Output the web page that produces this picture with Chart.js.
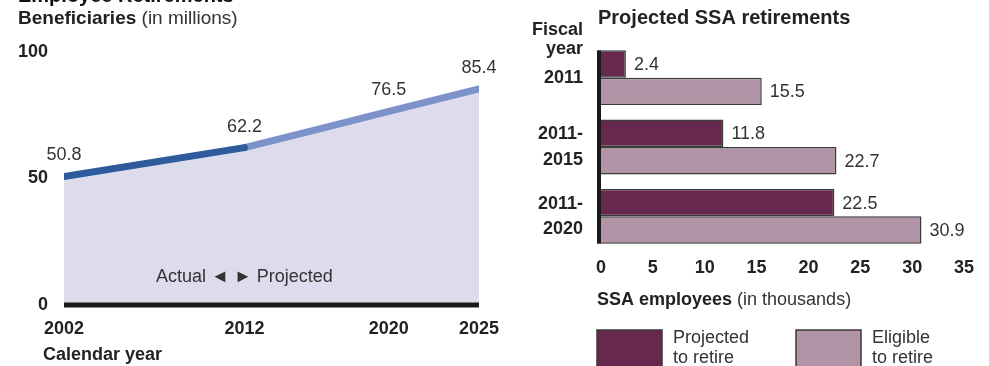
<!DOCTYPE html>
<html><head><meta charset="utf-8">
<script src="https://cdn.jsdelivr.net/npm/chart.js@4/dist/chart.umd.min.js"></script>
<style>
html,body{margin:0;padding:0;background:#fff;overflow:hidden}
#wrap{position:relative;width:989px;height:366px}
#c1{position:absolute;left:0;top:0}
#c2{position:absolute;left:500px;top:0}
</style></head><body>
<div id="wrap">
<canvas id="c1" width="500" height="366"></canvas>
<canvas id="c2" width="489" height="366"></canvas>
</div>
<script>
// ---- Left chart data: Beneficiaries (in millions) ----
const yearsActual = [2002, 2012];
const valuesActual = [50.8, 62.2];
const yearsProjected = [2012, 2020, 2025];
const valuesProjected = [62.2, 76.5, 85.4];
const yearTicks = [2002, 2012, 2020, 2025];
const beneficiaryTicks = [0, 50, 100];

// ---- Right chart data: Projected SSA retirements (thousands) ----
const periods = [['2011'], ['2011-', '2015'], ['2011-', '2020']];
const projectedToRetire = [2.4, 11.8, 22.5];
const eligibleToRetire = [15.5, 22.7, 30.9];
const employeeTicks = [0, 5, 10, 15, 20, 25, 30, 35];
const seriesNames = [['Projected', 'to retire'], ['Eligible', 'to retire']];

const FONT = '"Liberation Sans", Arial, Helvetica, sans-serif';
const TXT = '#222222';
const VAL = '#333333';

function mixedText(ctx, x, y, boldPart, normalPart, size) {
  ctx.save();
  ctx.textAlign = 'left';
  ctx.textBaseline = 'middle';
  ctx.fillStyle = TXT;
  ctx.font = 'bold ' + size + 'px ' + FONT;
  ctx.fillText(boldPart, x, y);
  const w = ctx.measureText(boldPart + ' ').width;
  ctx.font = size + 'px ' + FONT;
  ctx.fillStyle = '#333';
  ctx.fillText(normalPart, x + w, y);
  ctx.restore();
}

const allPoints = yearsActual.map((x, i) => ({ x: x, y: valuesActual[i] }))
  .concat(yearsProjected.slice(1).map((x, i) => ({ x: x, y: valuesProjected[i + 1] })));

const leftDecor = {
  id: 'leftDecor',
  afterDatasetsDraw(chart) {
    const ctx = chart.ctx;
    const xs = chart.scales.x, ys = chart.scales.y;
    // baseline at zero
    ctx.save();
    ctx.strokeStyle = '#1a1a1a';
    ctx.lineWidth = 5;
    ctx.beginPath();
    ctx.moveTo(xs.getPixelForValue(yearTicks[0]), ys.getPixelForValue(0));
    ctx.lineTo(xs.getPixelForValue(yearTicks[yearTicks.length - 1]), ys.getPixelForValue(0));
    ctx.stroke();
    // value labels
    ctx.font = '18px ' + FONT;
    ctx.fillStyle = VAL;
    ctx.textAlign = 'center';
    ctx.textBaseline = 'middle';
    allPoints.forEach(p => {
      ctx.fillText(p.y.toFixed(1), xs.getPixelForValue(p.x), ys.getPixelForValue(p.y) - 21);
    });
    // Actual / Projected marker
    ctx.fillStyle = '#333';
    ctx.fillText('Actual \u25C4 \u25BA Projected', xs.getPixelForValue(yearsActual[yearsActual.length - 1]), 277);
    ctx.restore();
  },
  afterDraw(chart) {
    const ctx = chart.ctx;
    ctx.save();
    ctx.font = 'bold 20px ' + FONT;
    ctx.fillStyle = '#111';
    ctx.textAlign = 'left';
    ctx.textBaseline = 'alphabetic';
    ctx.fillText('Employee Retirements', 18, 2);
    ctx.restore();
    mixedText(ctx, 18, 19, 'Beneficiaries', '(in millions)', 19);
    ctx.save();
    ctx.font = 'bold 18px ' + FONT;
    ctx.fillStyle = TXT;
    ctx.textBaseline = 'middle';
    ctx.fillText('Calendar year', 43, 355);
    ctx.restore();
  }
};

new Chart(document.getElementById('c1'), {
  type: 'line',
  data: {
    datasets: [
      {
        data: yearsActual.map((x, i) => ({ x: x, y: valuesActual[i] })),
        borderColor: '#2d5b9b', borderWidth: 7, borderCapStyle: 'round',
        fill: false, pointRadius: 0, tension: 0
      },
      {
        data: yearsProjected.map((x, i) => ({ x: x, y: valuesProjected[i] })),
        borderColor: '#7d92c8', borderWidth: 7, borderCapStyle: 'round',
        fill: false, pointRadius: 0, tension: 0.15
      },
      {
        data: allPoints,
        borderWidth: 0, borderColor: 'rgba(0,0,0,0)',
        fill: 'origin', backgroundColor: '#dcdcec', pointRadius: 0, tension: 0.15
      }
    ]
  },
  options: {
    responsive: false, animation: false,
    layout: { padding: { top: 52, right: 21, left: 0, bottom: 0 } },
    plugins: { legend: { display: false }, tooltip: { enabled: false }, filler: { drawTime: 'beforeDatasetsDraw' } },
    scales: {
      x: {
        type: 'linear', min: yearTicks[0], max: yearTicks[yearTicks.length - 1],
        afterBuildTicks: s => { s.ticks = yearTicks.map(v => ({ value: v })); },
        ticks: { font: { family: FONT, size: 18, weight: 'bold' }, color: TXT, padding: 13, maxRotation: 0, autoSkip: false, callback: v => String(v) },
        grid: { display: false, drawTicks: false }, border: { display: false },
        afterFit: s => { s.height = 61; s.paddingLeft = 0; s.paddingRight = 0; }
      },
      y: {
        min: 0, max: 100,
        afterBuildTicks: s => { s.ticks = beneficiaryTicks.map(v => ({ value: v })); },
        ticks: { font: { family: FONT, size: 18, weight: 'bold' }, color: TXT, padding: 16 },
        grid: { display: false, drawTicks: false }, border: { display: false },
        afterFit: s => { s.width = 64; s.paddingTop = 0; s.paddingBottom = 0; }
      }
    }
  },
  plugins: [leftDecor]
});

const barColors = ['#66284c', '#b195a6'];

const rightDecor = {
  id: 'rightDecor',
  afterDatasetsDraw(chart) {
    const ctx = chart.ctx;
    const xs = chart.scales.x;
    ctx.save();
    ctx.font = '18px ' + FONT;
    ctx.fillStyle = VAL;
    ctx.textAlign = 'left';
    ctx.textBaseline = 'middle';
    chart.data.datasets.forEach((ds, di) => {
      const meta = chart.getDatasetMeta(di);
      meta.data.forEach((el, i) => {
        ctx.fillText(ds.data[i].toFixed(1), el.x + 8, el.y + 1);
      });
    });
    // vertical axis bar
    const m0 = chart.getDatasetMeta(0), m1 = chart.getDatasetMeta(1);
    const first = m0.data[0], last = m1.data[m1.data.length - 1];
    const top = first.y - first.height / 2;
    const bottom = last.y + last.height / 2;
    const x0 = xs.getPixelForValue(0) - 2;
    ctx.strokeStyle = '#1a1a1a';
    ctx.lineWidth = 4;
    ctx.beginPath();
    ctx.moveTo(x0, top);
    ctx.lineTo(x0, bottom);
    ctx.stroke();
    ctx.restore();
  },
  afterDraw(chart) {
    const ctx = chart.ctx;
    ctx.save();
    ctx.font = 'bold 20px ' + FONT;
    ctx.fillStyle = TXT;
    ctx.textAlign = 'left';
    ctx.textBaseline = 'middle';
    ctx.fillText('Projected SSA retirements', 98, 18);
    ctx.font = 'bold 18px ' + FONT;
    ctx.textAlign = 'right';
    ctx.fillText('Fiscal', 83, 30);
    ctx.fillText('year', 83, 49);
    ctx.restore();
    mixedText(ctx, 97, 300, 'SSA employees', '(in thousands)', 18);
    // legend
    const boxes = [{ x: 97, tx: 173 }, { x: 296, tx: 372 }];
    boxes.forEach((b, i) => {
      ctx.save();
      ctx.fillStyle = barColors[i];
      ctx.strokeStyle = '#3a3a3a';
      ctx.lineWidth = 1.5;
      ctx.fillRect(b.x, 330, 65, 40);
      ctx.strokeRect(b.x, 330, 65, 40);
      ctx.font = '18px ' + FONT;
      ctx.fillStyle = VAL;
      ctx.textAlign = 'left';
      ctx.textBaseline = 'middle';
      ctx.fillText(seriesNames[i][0], b.tx, 338);
      ctx.fillText(seriesNames[i][1], b.tx, 358);
      ctx.restore();
    });
  }
};

new Chart(document.getElementById('c2'), {
  type: 'bar',
  data: {
    labels: periods,
    datasets: [
      { label: seriesNames[0].join(' '), data: projectedToRetire, backgroundColor: barColors[0], borderColor: '#3a3a3a', borderWidth: 1.5, categoryPercentage: 0.79, barPercentage: 1 },
      { label: seriesNames[1].join(' '), data: eligibleToRetire, backgroundColor: barColors[1], borderColor: '#3a3a3a', borderWidth: 1.5, categoryPercentage: 0.79, barPercentage: 1 }
    ]
  },
  options: {
    indexAxis: 'y',
    responsive: false, animation: false,
    layout: { padding: { top: 43, right: 25, left: 0, bottom: 0 } },
    plugins: { legend: { display: false }, tooltip: { enabled: false } },
    scales: {
      x: {
        min: employeeTicks[0], max: employeeTicks[employeeTicks.length - 1],
        afterBuildTicks: s => { s.ticks = employeeTicks.map(v => ({ value: v })); },
        ticks: { font: { family: FONT, size: 18, weight: 'bold' }, color: TXT, padding: 6, maxRotation: 0, autoSkip: false },
        grid: { display: false, drawTicks: false }, border: { display: false },
        afterFit: s => { s.height = 115; s.paddingLeft = 0; s.paddingRight = 0; }
      },
      y: {
        ticks: { font: { family: FONT, size: 18, weight: 'bold', lineHeight: 1.4 }, color: TXT, padding: 18 },
        grid: { display: false, drawTicks: false }, border: { display: false },
        afterFit: s => { s.width = 101; s.paddingTop = 0; s.paddingBottom = 0; }
      }
    }
  },
  plugins: [rightDecor]
});
</script>
</body></html>
